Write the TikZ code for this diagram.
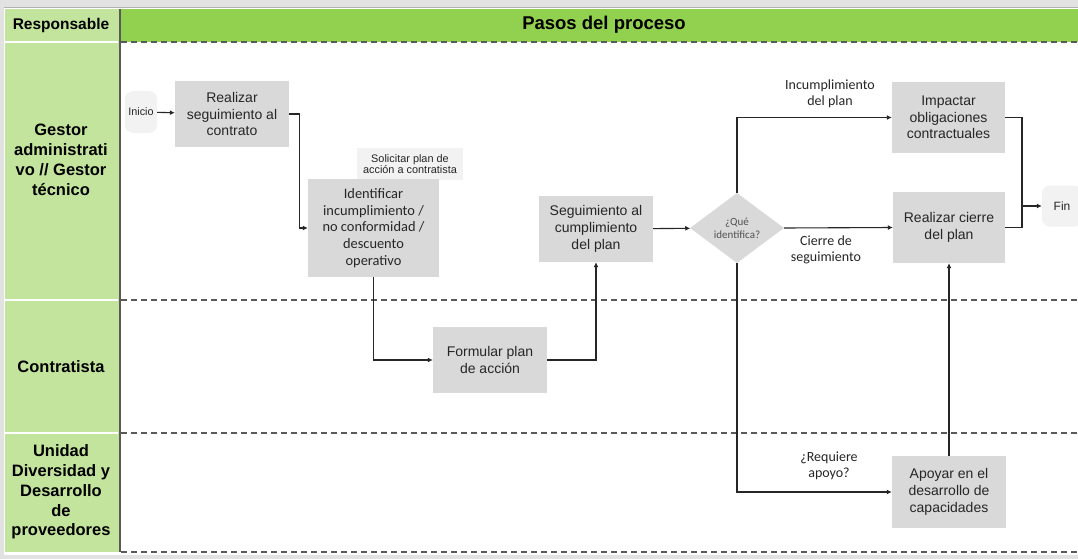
\documentclass[tikz,border=0pt]{standalone}
\usepackage{fontspec}
\setmainfont{Liberation Sans}
\newfontfamily\calibrifont{Carlito}
\usetikzlibrary{shapes.geometric,arrows.meta}

\definecolor{laneGreen}{RGB}{195,228,156}
\definecolor{headGreen}{RGB}{146,208,80}
\definecolor{boxGray}{RGB}{217,217,217}
\definecolor{softGray}{RGB}{242,242,242}
\definecolor{frameGray}{RGB}{226,226,226}
\definecolor{inkGray}{RGB}{38,38,38}
\definecolor{dashGray}{RGB}{90,90,90}

\tikzset{
  procbox/.style={fill=boxGray, text=inkGray, align=center, inner sep=0pt, font=\fontsize{14}{16.7}\selectfont},
  calbox/.style={procbox, font=\calibrifont\fontsize{14.4}{16.7}\selectfont},
  notebox/.style={fill=softGray, text=inkGray, align=center, inner sep=0pt, font=\fontsize{10.9}{11.7}\selectfont},
  terminal/.style={fill=softGray, rounded corners=8pt, text=inkGray, inner sep=0pt},
  decision/.style={diamond, fill=boxGray, text=inkGray!80, align=center, inner sep=0pt,
    minimum width=94pt, minimum height=70pt, font=\calibrifont\fontsize{11}{12.7}\selectfont},
  flowlabel/.style={align=center, text=inkGray, font=\calibrifont\fontsize{14}{16}\selectfont},
  lanelabel/.style={align=center, text=black, font=\bfseries\fontsize{16.5}{19.8}\selectfont},
  link/.style={draw=inkGray, line width=1.1pt},
  flow/.style={link, -{Latex[length=5pt,width=5pt]}},
  lanesep/.style={draw=dashGray, line width=1.1pt, dash pattern=on 6pt off 4pt},
}

\begin{document}
\begin{tikzpicture}[x=1pt,y=-1pt]
		\useasboundingbox (0,0) rectangle (1078,559);
		% Frame, header and lanes
		\fill[frameGray] (0,0) rectangle (1078,559);
		\fill[white] (4,7) rectangle (1078,555);
		\fill[laneGreen] (5,9) rectangle (119,552);
		\fill[headGreen] (120,9) rectangle (1078,42);
		\draw[gray!60, line width=1pt] (4,8) -- (1078,8);
		\draw[gray!70!black, line width=2pt] (119.5,9) -- (119.5,552);
		\foreach \y in {42,300,433}
			\draw[white, line width=2pt] (5,\y) -- (118,\y);
		\foreach \y in {42,300,433,552}
			\draw[lanesep] (121,\y) -- (1078,\y);
		\node[font=\bfseries\fontsize{15.5}{18}\selectfont] (hdrResp) at (61,25) {Responsable};
		\node[font=\bfseries\fontsize{18.5}{21}\selectfont] (hdrPasos) at (604,25) {Pasos del proceso};
		\node[lanelabel] (laneGestor) at (61,160) {Gestor\\administrati\\vo // Gestor\\técnico};
		\node[lanelabel] (laneContr) at (61,367) {Contratista};
		\node[lanelabel] (laneUnidad) at (61,492) {Unidad\\Diversidad y\\Desarrollo\\de\\proveedores};
		% Steps
		\node[terminal, minimum width=32pt, minimum height=42pt, font=\fontsize{10.8}{12}\selectfont] (inicio) at (141,112) {Inicio};
		\node[procbox, minimum width=114pt, minimum height=66pt] (realizar) at (232,114) {Realizar\\seguimiento al\\contrato};
		\node[notebox, minimum width=106pt, minimum height=32pt] (solicitar) at (410,164) {Solicitar plan de\\acción a contratista};
		\node[calbox, minimum width=131pt, minimum height=98pt] (identificar) at (373.5,228) {Identificar\\incumplimiento /\\no conformidad /\\descuento\\operativo};
		\node[procbox, minimum width=114pt, minimum height=66pt] (formular) at (490,360) {Formular plan\\de acción};
		\node[procbox, minimum width=114pt, minimum height=66pt] (segplan) at (596,229) {Seguimiento al\\cumplimiento\\del plan};
		\node[decision] (identifica) at (737,228) {¿Qué\\identifica?};
		\node[procbox, minimum width=113pt, minimum height=71pt] (impactar) at (948.5,117.5) {Impactar\\obligaciones\\contractuales};
		\node[procbox, minimum width=112pt, minimum height=71pt] (cierre) at (949,227.5) {Realizar cierre\\del plan};
		\node[procbox, minimum width=114pt, minimum height=72pt] (apoyar) at (949,492) {Apoyar en el\\desarrollo de\\capacidades};
		\node[terminal, minimum width=40pt, minimum height=41pt, font=\fontsize{12}{14}\selectfont] (fin) at (1062,206) {Fin};
		% Connectors and their labels
		\draw[flow] (inicio) -- (realizar);
		\draw[flow] (realizar.east) -- ++(10,0) |- (identificar.west);
		\draw[flow] (identificar.south) |- (formular.west);
		\draw[flow] (formular.east) -| (segplan.south);
		\draw[flow] (segplan) -- (identifica);
		\draw[flow] (identifica.north) |- (impactar.west);
		\draw[flow] (identifica.east) -- (cierre.west);
		\draw[flow] (identifica.south) |- (apoyar.west);
		\draw[flow] (apoyar.north) -- (cierre.south);
		\coordinate (joinFin) at (1022,206);
		\draw[link] (impactar.east) -| (joinFin);
		\draw[link] (cierre.east) -| (joinFin);
		\draw[flow] (joinFin) -- (fin.west);
		\node[flowlabel] (lblIncumpl) at (830,94) {Incumplimiento\\del plan};
		\node[flowlabel] (lblCierre) at (826,250) {Cierre de\\seguimiento};
		\node[flowlabel] (lblApoyo) at (829,466) {¿Requiere\\apoyo?};
	\end{tikzpicture}
\end{document}
